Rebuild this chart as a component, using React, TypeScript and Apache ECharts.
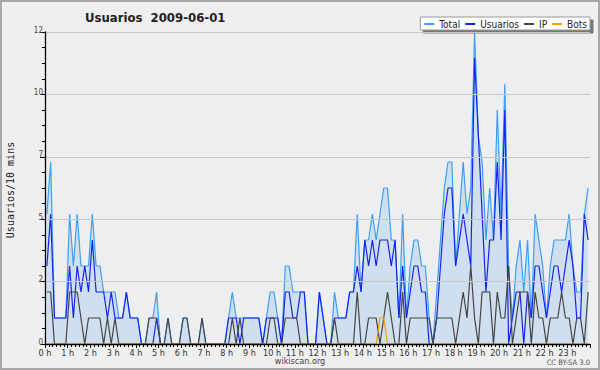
import React, { useEffect, useRef } from "react";
import * as echarts from "echarts";

const hourLabels = ["0 h","1 h","2 h","3 h","4 h","5 h","6 h","7 h","8 h","9 h","10 h","11 h","12 h","13 h","14 h","15 h","16 h","17 h","18 h","19 h","20 h","21 h","22 h","23 h"];
const yTickLabels = ["0", "2", "5", "7", "10", "12"];

const total = [
  5,7,1,1,1,1,5,3,5,3, 3,3,5,3,3,2,2,2,2,1, 1,2,1,1,1,0,0,1,1,2, 0,0,1,0,0,0,1,1,0,0,
  0,1,0,0,0,0,0,0,1,2, 1,1,1,1,1,1,1,0,1,2, 2,1,0,3,3,2,2,2,2,0, 0,0,2,1,0,0,2,1,1,1,
  2,2,5,2,4,4,5,4,5,6, 6,4,4,1,5,1,3,4,4,3, 3,1,0,2,4,6,7,7,3,5, 7,5,6,12,8,7,4,6,4,9,
  5,10,3,1,3,4,2,4,1,5, 4,3,1,3,4,4,4,4,5,3, 2,2,5,6
];
const usuarios = [
  3,5,1,1,1,1,3,1,3,2, 3,2,4,2,2,2,1,2,1,1, 1,2,1,1,1,0,0,0,0,1, 0,0,0,0,0,0,0,0,0,0,
  0,0,0,0,0,0,0,0,1,1, 1,0,1,1,1,1,1,0,1,1, 1,1,0,2,2,1,1,2,2,0, 0,0,2,1,0,0,1,1,1,1,
  2,2,3,2,4,3,4,3,4,4, 4,3,4,1,3,1,2,3,3,2, 2,0,0,1,3,5,6,6,3,4, 5,4,3,11,8,5,2,4,4,7,
  4,9,0,1,2,2,0,2,1,3, 3,2,1,2,3,3,2,3,4,3, 1,1,5,4
];
const ip = [
  2,2,0,0,0,0,2,2,2,1, 0,1,1,1,1,0,1,0,1,0, 0,0,0,0,0,0,0,1,1,1, 0,0,1,0,0,0,1,1,0,0,
  0,1,0,0,0,0,0,0,0,1, 0,1,0,0,0,0,0,0,0,1, 1,0,0,1,1,1,1,0,0,0, 0,0,0,0,0,0,1,0,0,0,
  0,0,2,0,0,1,1,1,0,1, 2,1,0,0,2,0,1,1,1,1, 1,1,0,1,1,1,1,1,0,1, 2,1,3,1,0,2,2,2,0,2,
  1,1,3,0,1,2,2,2,0,2, 1,1,0,1,1,1,2,1,1,0, 1,1,0,2
];
const bots = [
  0,0,0,0,0,0,0,0,0,0, 0,0,0,0,0,0,0,0,0,0, 0,0,0,0,0,0,0,0,0,0, 0,0,0,0,0,0,0,0,0,0,
  0,0,0,0,0,0,0,0,0,0, 0,0,0,0,0,0,0,0,0,0, 0,0,0,0,0,0,0,0,0,0, 0,0,0,0,0,0,0,0,0,0,
  0,0,0,0,0,0,0,0,1,1, 0,0,0,0,0,0,0,0,0,0, 0,0,0,0,0,0,0,0,0,0, 0,0,0,0,0,0,0,0,0,0,
  0,0,0,0,0,0,0,0,0,0, 0,0,0,0,0,0,0,0,0,0, 0,0,0,0
];

const FONT = '"DejaVu Sans Condensed", "DejaVu Sans", sans-serif';

const toPoints = (arr: number[]) => arr.map((v, i) => [i + 0.5, v]);

export default function App() {
  const ref = useRef<HTMLDivElement>(null);
  useEffect(() => {
    if (!ref.current) return;
    const chart = echarts.init(ref.current, null, { renderer: "svg" });
    const lineSeries = (name: string, data: number[], color: string, extra: any = {}) => ({
      name,
      type: "line",
      data: toPoints(data),
      showSymbol: false,
      symbol: "none",
      lineStyle: { color, width: 1.2 },
      itemStyle: { color },
      color,
      ...extra,
    });
    chart.setOption({
      animation: false,
      backgroundColor: "#efefef",
      textStyle: { fontFamily: FONT },
      grid: {
        left: 45, right: 10, top: 32, bottom: 26,
        show: true, backgroundColor: "#eceef0", borderWidth: 0,
      },
      legend: {
        top: 17, right: 10,
        itemWidth: 10, itemHeight: 2, itemGap: 5, icon: "rect",
        padding: [2, 3, 1, 4],
        backgroundColor: "#ffffff", borderColor: "#999", borderWidth: 1,
        shadowColor: "#777", shadowOffsetX: 3, shadowOffsetY: 3, shadowBlur: 0,
        textStyle: { fontSize: 10, color: "#222", fontFamily: FONT },
        data: ["Total", "Usuarios", "IP", "Bots"],
      },
      xAxis: {
        type: "value", min: 0, max: 144, interval: 6, z: 10,
        axisLine: { show: true, lineStyle: { color: "#000", width: 1.3 } },
        axisTick: { show: true, length: 4, lineStyle: { color: "#000" } },
        minorTick: { show: true, splitNumber: 6, length: 3, lineStyle: { color: "#000" } },
        splitLine: { show: false },
        axisLabel: {
          formatter: (v: number) => hourLabels[Math.round(v / 6)] ?? "",
          fontSize: 9, color: "#333", margin: 4, fontFamily: FONT,
        },
      },
      yAxis: {
        type: "value", min: 0, max: 12, interval: 2.4, z: 10,
        axisLine: { show: true, lineStyle: { color: "#000", width: 1.3 } },
        axisTick: { show: true, length: 5, lineStyle: { color: "#000" } },
        minorTick: { show: true, splitNumber: 4, length: 3, lineStyle: { color: "#000" } },
        splitLine: { show: true, lineStyle: { color: "#c8c8c8", width: 1 } },
        axisLabel: {
          formatter: (v: number) => yTickLabels[Math.round(v / 2.4)] ?? "",
          fontSize: 8, color: "#444", margin: 2, fontFamily: FONT,
          verticalAlign: "bottom", lineHeight: 8, padding: [0, 0, -2, 0],
        },
      },
      series: [
        lineSeries("Total", total, "#3d9ff5", { areaStyle: { color: "rgba(100,170,235,0.30)" } }),
        lineSeries("Usuarios", usuarios, "#1424f0"),
        lineSeries("IP", ip, "#444444"),
        lineSeries("Bots", bots, "#ff9900"),
      ],
      graphic: [
        {
          type: "rect", silent: true, z: 100,
          shape: { x: 1, y: 1, width: 598, height: 368 },
          style: { fill: "none", stroke: "#a8a8a8", lineWidth: 2 },
        },
        {
          type: "text", x: 85, y: 17, silent: true,
          style: {
            text: "Usuarios  2009-06-01", font: 'bold 13px "DejaVu Sans Condensed", "DejaVu Sans"',
            fill: "#222", align: "left", verticalAlign: "middle",
          },
        },
        {
          type: "text", x: 10, y: 190, rotation: Math.PI / 2, silent: true,
          style: {
            text: "Usuarios/10 mins", font: '10px "DejaVu Sans Mono", monospace',
            fill: "#222", align: "center", verticalAlign: "middle",
          },
        },
        {
          type: "text", x: 300, y: 361, silent: true,
          style: {
            text: "wikiscan.org", font: '9px "DejaVu Sans Condensed", "DejaVu Sans"',
            fill: "#444", align: "center", verticalAlign: "middle",
          },
        },
        {
          type: "text", x: 590, y: 362, silent: true,
          style: {
            text: "CC BY-SA 3.0", font: '7.5px "DejaVu Sans Condensed", "DejaVu Sans"',
            fill: "#555", align: "right", verticalAlign: "middle",
          },
        },
      ],
    });
    return () => chart.dispose();
  }, []);
  return (
    <div
      ref={ref}
      style={{ position: "absolute", left: 0, top: 0, width: 600, height: 370 }}
    />
  );
}
